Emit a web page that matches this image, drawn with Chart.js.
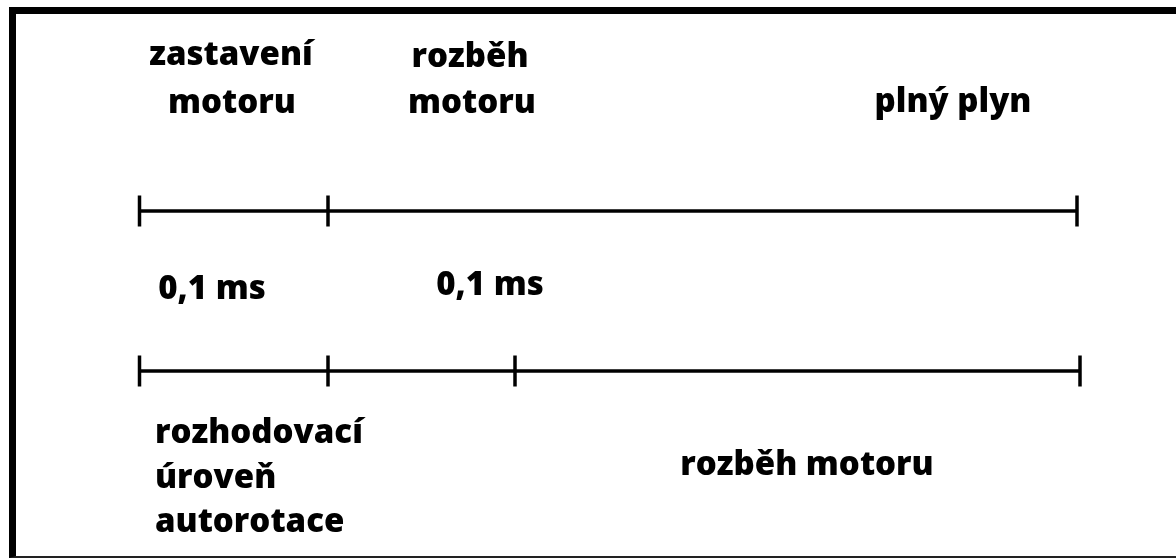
<!DOCTYPE html>
<html>
<head>
<meta charset="utf-8">
<script src="https://cdn.jsdelivr.net/npm/chart.js@4/dist/chart.umd.min.js"></script>
<style>
    html, body { margin: 0; padding: 0; background: #fff; }
    #wrap { position: relative; width: 1176px; height: 558px; overflow: hidden; }
    #frame {
        position: absolute; left: 9px; top: 7px; right: -10px; bottom: 0;
        border-top: 7px solid #000; border-left: 7px solid #000; border-bottom: 2px solid #222;
        pointer-events: none;
    }
</style>
</head>
<body>
<div id="wrap">
    <canvas id="timeline" width="1176" height="558"></canvas>
    <div id="frame"></div>
</div>
<script>
// Timeline positions (diagram units, left -> right)
const upperMarks = [139.5, 328, 1077];
const lowerMarks = [139.5, 328, 515, 1080];
const upperLevel = 211;
const lowerLevel = 371;

// Labels
const labelTexts = ['zastavení', 'motoru', 'rozběh', 'motoru', 'plný plyn', '0,1 ms', '0,1 ms',
    'rozhodovací', 'úroveň', 'autorotace', 'rozběh motoru'];
const labelX = [231, 232, 470, 472, 953, 212, 490, 155, 155, 155, 807];
const labelY = [65, 113, 67, 113, 112, 299, 295, 443, 488, 532, 475];
const labelAlign = ['center', 'center', 'center', 'center', 'center', 'center', 'center',
    'left', 'left', 'left', 'center'];

const FONT = '800 33px "Open Sans", "DejaVu Sans", sans-serif';

const labelPlugin = {
    id: 'labels',
    afterDraw(chart) {
        const { ctx, scales } = chart;
        ctx.save();
        ctx.fillStyle = '#000';
        ctx.font = FONT;
        ctx.textBaseline = 'alphabetic';
        labelTexts.forEach((t, i) => {
            ctx.textAlign = labelAlign[i];
            ctx.fillText(t, scales.x.getPixelForValue(labelX[i]), scales.y.getPixelForValue(labelY[i]));
        });
        ctx.restore();
    }
};

const makeLine = (marks, level) => ({
    data: marks.map(x => ({ x: x, y: level })),
    borderColor: '#000',
    borderWidth: 3.5,
    pointStyle: 'line',
    rotation: 90,
    pointRadius: 15.5,
    pointBorderWidth: 3.5,
    pointBorderColor: '#000',
    showLine: true,
    fill: false
});

new Chart(document.getElementById('timeline'), {
    type: 'scatter',
    data: {
        datasets: [makeLine(upperMarks, upperLevel), makeLine(lowerMarks, lowerLevel)]
    },
    options: {
        responsive: false,
        animation: false,
        layout: { padding: 0, autoPadding: false },
        plugins: { legend: { display: false }, tooltip: { enabled: false } },
        scales: {
            x: { type: 'linear', min: 0, max: 1176, display: false },
            y: { type: 'linear', min: 0, max: 558, reverse: true, display: false }
        }
    },
    plugins: [labelPlugin]
});
</script>
</body>
</html>
